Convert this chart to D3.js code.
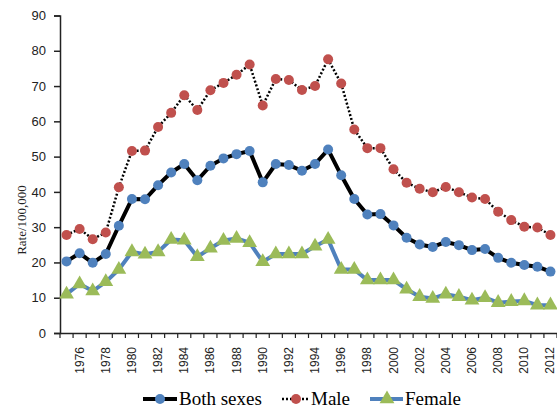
<!DOCTYPE html>
<html><head><meta charset="utf-8">
<script src="https://cdn.jsdelivr.net/npm/d3@7"></script>
<style>body{margin:0;background:#fff}</style>
</head><body><svg id="c" width="557" height="410"></svg>
<script>
const years = d3.range(1975, 2013);
const bothSexes = [20.3,22.6,19.9,22.4,30.4,38.0,37.9,41.9,45.5,47.9,43.3,47.4,49.5,50.7,51.6,42.7,47.9,47.6,46.0,47.9,52.0,44.7,38.0,33.6,33.7,30.5,27.0,25.1,24.4,25.8,24.9,23.5,23.8,21.3,19.9,19.3,18.8,17.4];
const male = [27.8,29.5,26.6,28.5,41.3,51.6,51.7,58.4,62.4,67.4,63.2,68.8,70.9,73.2,76.1,64.5,72.0,71.7,68.9,70.0,77.6,70.7,57.7,52.4,52.4,46.4,42.6,40.9,39.9,41.4,39.9,38.4,38.0,34.4,32.0,30.1,29.9,27.8];
const female = [11.0,13.9,11.9,14.5,18.0,23.0,22.3,23.0,26.5,26.3,21.6,24.0,26.2,26.8,25.6,20.2,22.4,22.4,22.4,24.6,26.5,18.0,18.0,15.0,15.0,15.0,12.4,10.3,9.8,11.0,10.3,9.3,10.0,8.6,8.9,9.1,7.9,7.9];
const yTicks = d3.range(0, 91, 10);
const xTickLabels = d3.range(1976, 2013, 2);
const seriesNames = ["Both sexes", "Male", "Female"];

const svg = d3.select("#c");
const x = d3.scaleBand().domain(years).range([60, 557]);
const y = d3.scaleLinear().domain([0, 90]).range([333, 15.5]);
const cx = d => x(d) + x.bandwidth() / 2;

// Y axis
const ya = svg.append("g").attr("transform", "translate(60,0)")
  .call(d3.axisLeft(y).tickValues(yTicks).tickSize(6).tickPadding(8));
ya.select(".domain").attr("stroke", "#222").attr("stroke-width", 1.5);
ya.selectAll(".tick line").attr("stroke", "#222").attr("stroke-width", 1.5);
ya.selectAll("text").attr("font-family", "Liberation Sans, Arial, sans-serif").attr("font-size", 13).attr("fill", "#222");

// X axis
const xa = svg.append("g").attr("transform", "translate(0,333)")
  .call(d3.axisBottom(x).tickValues([]).tickSizeOuter(0));
xa.select(".domain").attr("stroke", "#222").attr("stroke-width", 1.5);
const bounds = years.map(d => x(d)).concat([x.range()[1]]);
xa.selectAll("line.bt").data(bounds).enter().append("line").attr("class", "bt")
  .attr("x1", d => d).attr("x2", d => d).attr("y1", 0).attr("y2", 5)
  .attr("stroke", "#222").attr("stroke-width", 1.2);
xa.selectAll("text.lbl").data(xTickLabels).enter().append("text").attr("class", "lbl")
  .attr("transform", d => `translate(${cx(d) + 4},14) rotate(-90)`)
  .attr("text-anchor", "end")
  .attr("font-family", "Liberation Sans, Arial, sans-serif").attr("font-size", 12).attr("fill", "#222")
  .text(d => d);

// Y label
svg.append("text").attr("transform", "translate(26,220) rotate(-90)")
  .attr("text-anchor", "middle").attr("font-family", "Liberation Serif, serif").attr("font-size", 13)
  .attr("fill", "#222").text("Rate/100,000");

const line = d3.line().x((d, i) => cx(years[i])).y(d => y(d));
const tri = d3.symbol().type(d3.symbolTriangle).size(95);

// Female
svg.append("path").datum(female).attr("d", line).attr("fill", "none").attr("stroke", "#4F81BD").attr("stroke-width", 4).attr("stroke-linejoin", "round");
// Both sexes line
svg.append("path").datum(bothSexes).attr("d", line).attr("fill", "none").attr("stroke", "#000").attr("stroke-width", 4).attr("stroke-linejoin", "round");
// Male line
svg.append("path").datum(male).attr("d", line).attr("fill", "none").attr("stroke", "#000").attr("stroke-width", 2.5).attr("stroke-dasharray", "2,2");

svg.selectAll("path.ft").data(female).enter().append("path").attr("class", "ft")
  .attr("d", tri).attr("transform", (d, i) => `translate(${cx(years[i])},${y(d)})`).attr("fill", "#9BBB59");
svg.selectAll("circle.bs").data(bothSexes).enter().append("circle").attr("class", "bs")
  .attr("cx", (d, i) => cx(years[i])).attr("cy", d => y(d)).attr("r", 5).attr("fill", "#4F81BD");
svg.selectAll("circle.ml").data(male).enter().append("circle").attr("class", "ml")
  .attr("cx", (d, i) => cx(years[i])).attr("cy", d => y(d)).attr("r", 5).attr("fill", "#C0504D");

// Legend
const lg = svg.append("g");
const ly = 399;
lg.append("line").attr("x1", 143).attr("x2", 177).attr("y1", ly).attr("y2", ly).attr("stroke", "#000").attr("stroke-width", 4);
lg.append("circle").attr("cx", 160).attr("cy", ly).attr("r", 5).attr("fill", "#4F81BD");
lg.append("line").attr("x1", 282).attr("x2", 310).attr("y1", ly).attr("y2", ly).attr("stroke", "#000").attr("stroke-width", 2.5).attr("stroke-dasharray", "2,2");
lg.append("circle").attr("cx", 296).attr("cy", ly).attr("r", 5).attr("fill", "#C0504D");
lg.append("line").attr("x1", 370).attr("x2", 403).attr("y1", ly).attr("y2", ly).attr("stroke", "#4F81BD").attr("stroke-width", 4);
lg.append("path").attr("d", tri).attr("transform", `translate(387,${ly})`).attr("fill", "#9BBB59");
const lx = [179, 311, 405];
lg.selectAll("text").data(seriesNames).enter().append("text")
  .attr("x", (d, i) => lx[i]).attr("y", 405)
  .attr("font-family", "Liberation Serif, serif").attr("font-size", 19).attr("fill", "#000")
  .text(d => d);
</script></body></html>
